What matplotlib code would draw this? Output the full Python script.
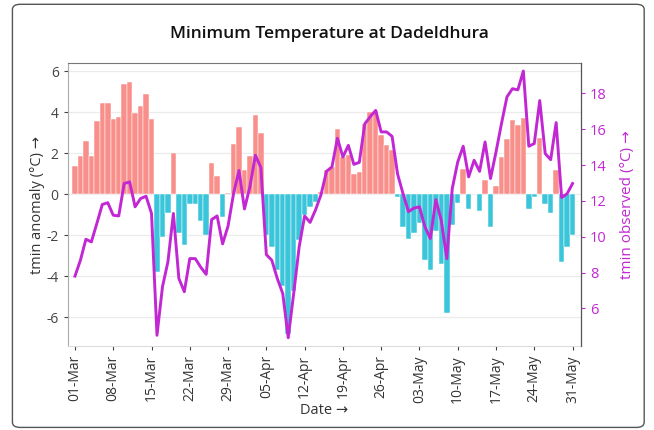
import numpy as np
import pandas as pd
import matplotlib
matplotlib.use("Agg")
import matplotlib.pyplot as plt
import matplotlib.dates as mdates
from matplotlib.patches import FancyBboxPatch

plt.rcParams['font.family'] = ['Open Sans', 'DejaVu Sans']
plt.rcParams['axes.unicode_minus'] = False

# daily data, 01-Mar .. 31-May
dates = pd.date_range('2023-03-01', '2023-05-31', freq='D')

anomaly = [1.37, 1.85, 2.6, 1.85, 3.58, 4.47, 4.47, 3.67, 3.77, 5.37,
           5.48, 3.98, 4.29, 4.89, 3.67, -3.82, -2.11, -0.94, 2.0, -1.9,
           -2.5, -0.5, -0.5, -1.3, -2.0, 1.5, 0.9, -1.1, 0.08, 2.47,
           3.28, 1.2, 1.85, 3.89, 3.0, -2.0, -2.6, -3.7, -4.5, -6.8,
           -4.7, -2.24, -1.0, -0.6, -0.4, 0.1, 1.17, 1.33, 3.2, 1.82,
           1.9, 0.98, 1.07, 3.45, 4.0, 4.05, 2.9, 2.4, 2.16, -0.13,
           -1.6, -2.2, -1.9, -1.4, -3.2, -3.7, -1.8, -3.4, -5.8, -1.5,
           -0.42, 1.22, -0.72, 0.0, -0.8, 0.68, -1.6, 0.4, 1.8, 2.7,
           3.6, 3.4, 3.7, -0.7, -0.13, 2.76, -0.5, -0.9, 1.2, -3.3,
           -2.6, -2.0]

tmin = [7.8, 8.69, 9.86, 9.71, 10.74, 11.8, 11.9, 11.2, 11.16, 12.97,
        13.06, 11.67, 12.13, 12.26, 11.3, 4.5, 7.2, 8.6, 11.3, 7.67,
        6.93, 8.78, 8.78, 8.3, 7.9, 10.96, 11.16, 9.6, 10.6, 12.4,
        13.7, 11.55, 12.8, 14.55, 13.86, 9.0, 8.69, 7.67, 6.83, 4.36,
        6.83, 9.43, 11.16, 10.8, 11.5, 12.35, 13.65, 13.9, 15.5, 14.45,
        15.1, 14.04, 14.15, 16.3, 16.7, 17.05, 15.85, 15.85, 15.6, 13.5,
        12.4, 11.4, 11.6, 11.67, 10.55, 9.9, 12.07, 10.9, 8.78, 12.69,
        14.17, 15.05, 13.34, 14.27, 13.65, 15.29, 13.25, 14.73, 16.31, 17.8,
        18.26, 18.2, 19.25, 15.05, 15.2, 17.6, 14.64, 14.3, 16.37, 12.19,
        12.4, 12.97]

anomaly = np.array(anomaly)
pos_col = '#f88f8a'
neg_col = '#3bc5da'
line_col = '#c227d4'
colors = np.where(anomaly >= 0, pos_col, neg_col)

fig = plt.figure(figsize=(6.54, 4.30), dpi=100)
fig.patches.append(FancyBboxPatch((0.019, 0.006), 0.966, 0.984,
                                  boxstyle="round,pad=0,rounding_size=0.012",
                                  transform=fig.transFigure, fill=False,
                                  edgecolor='#555555', linewidth=1.0))

ax = fig.add_axes([0.1035, 0.1953, 0.7845, 0.6575])
ax.bar(dates, anomaly, width=1.0, color=colors, edgecolor='white', linewidth=0.35, zorder=2)
ax.set_ylim(-7.41, 6.39)
ax.set_yticks([-6, -4, -2, 0, 2, 4, 6])
ax.grid(axis='y', color='#ebebeb', linewidth=0.9, zorder=0)
ax.set_axisbelow(True)
ax.set_xlim(dates[0] - pd.Timedelta(days=1.33), dates[-1] + pd.Timedelta(days=1.5))
ax.set_xticks(dates[::7])
ax.xaxis.set_major_formatter(mdates.DateFormatter('%d-%b'))
for lbl in ax.get_xticklabels():
    lbl.set_rotation(90)
ax.tick_params(axis='both', colors='#444444', labelsize=10, length=3, width=0.8)
ax.tick_params(axis='x', labelcolor='#333333')
ax.tick_params(axis='y', labelcolor='#444444')
ax.set_ylabel('tmin anomaly (°C) →', fontsize=10.5, color='#333333', labelpad=1)
ax.set_xlabel('Date →', fontsize=10.5, color='#333333', labelpad=0)
ax.spines['top'].set_color('#777777')
ax.spines['left'].set_color('#aaaaaa')
ax.spines['bottom'].set_color('#dddddd')

ax2 = ax.twinx()
ax2.plot(dates, tmin, color=line_col, linewidth=2.1, zorder=3)
ax2.set_ylim(3.9, 19.68)
ax2.set_yticks([6, 8, 10, 12, 14, 16, 18])
ax2.tick_params(axis='y', colors=line_col, labelsize=10.5, length=3, width=0.8)
ax2.set_ylabel('tmin observed (°C) →', fontsize=11, color=line_col, labelpad=10)
ax2.spines['right'].set_color('#555555')
ax2.spines['top'].set_visible(False)
ax2.spines['left'].set_visible(False)
ax2.spines['bottom'].set_visible(False)

fig.text(0.503, 0.922, 'Minimum Temperature at Dadeldhura', ha='center', va='center',
         fontsize=12.5, color='#111111', fontweight='semibold')

fig.savefig('out.png', dpi=100)
